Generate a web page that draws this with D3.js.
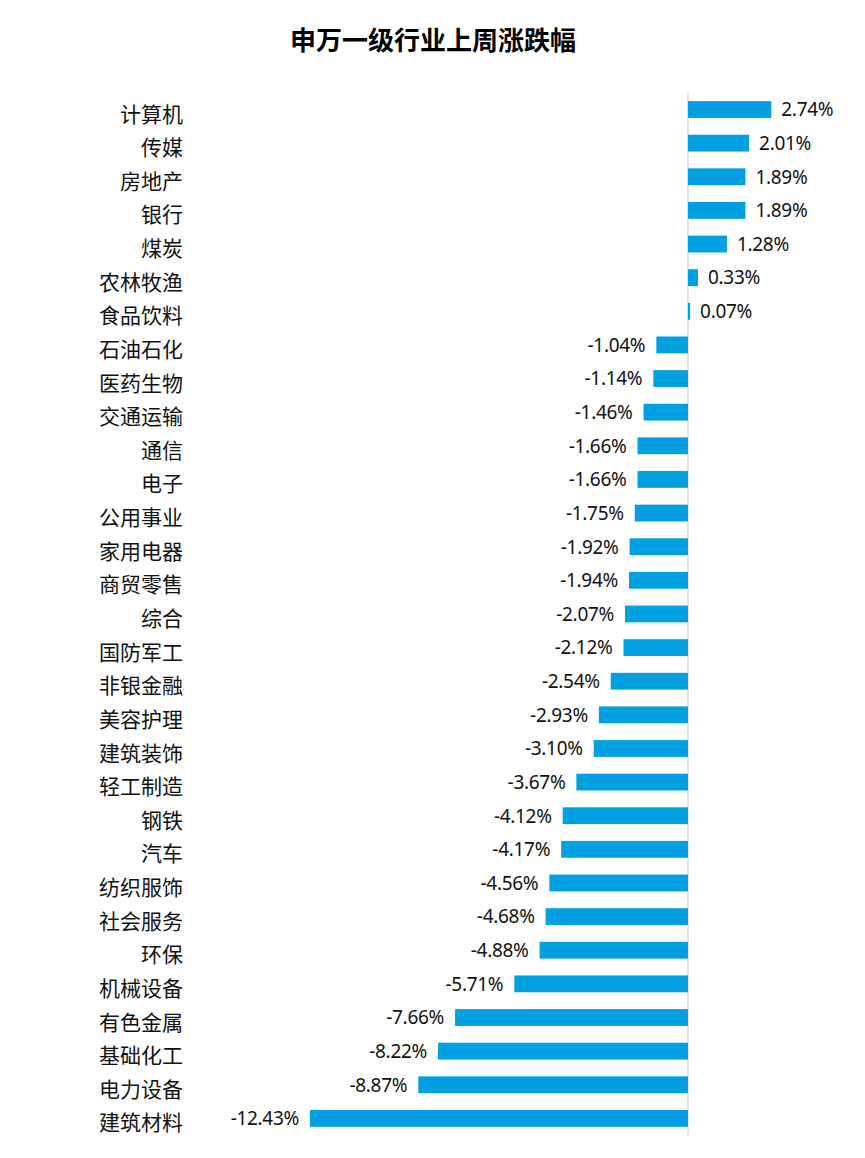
<!DOCTYPE html>
<html>
  <head>
    <meta charset="utf-8">
    <script src="https://d3js.org/d3.v7.min.js"></script>
    <title>申万一级行业上周涨跌幅</title>
    <style>
      body { margin: 0; background: #fff; }
      text { font-family: "Noto Sans CJK SC", "Noto Sans", sans-serif; }
    </style>
  </head>
  <body>
  <script>
    var industries = ["计算机", "传媒", "房地产", "银行", "煤炭", "农林牧渔", "食品饮料", "石油石化",
      "医药生物", "交通运输", "通信", "电子", "公用事业", "家用电器", "商贸零售", "综合",
      "国防军工", "非银金融", "美容护理", "建筑装饰", "轻工制造", "钢铁", "汽车", "纺织服饰",
      "社会服务", "环保", "机械设备", "有色金属", "基础化工", "电力设备", "建筑材料"];
    var changes = [2.74, 2.01, 1.89, 1.89, 1.28, 0.33, 0.07, -1.04,
      -1.14, -1.46, -1.66, -1.66, -1.75, -1.92, -1.94, -2.07,
      -2.12, -2.54, -2.93, -3.10, -3.67, -4.12, -4.17, -4.56,
      -4.68, -4.88, -5.71, -7.66, -8.22, -8.87, -12.43];

    var width = 865, height = 1158;
    var title = "申万一级行业上周涨跌幅";

    var data = industries.map(function(d, i) { return {name: d, value: changes[i]}; });

    var svg = d3.select("body").append("svg")
      .attr("width", width)
      .attr("height", height);

    svg.append("text")
      .attr("x", 433)
      .attr("y", 50)
      .attr("text-anchor", "middle")
      .style("font-size", "26px")
      .style("font-weight", "bold")
      .style("fill", "#000")
      .text(title);

    // zero sits at ~688px, -12.43 reaches ~310px
    var x = d3.scaleLinear().domain([-12.43, 2.74]).range([310, 771.3]);
    var y = d3.scaleBand().domain(industries).range([92.7, 1135.2])
      .paddingInner(0.5).paddingOuter(0.25);

    // vertical zero line
    svg.append("line")
      .attr("x1", x(0)).attr("x2", x(0))
      .attr("y1", 93).attr("y2", 1135)
      .attr("stroke", "#d9d9d9")
      .attr("stroke-width", 1.5);

    svg.selectAll(".bar")
      .data(data)
      .enter().append("rect")
        .attr("class", "bar")
        .attr("x", function(d) { return Math.min(x(0), x(d.value)); })
        .attr("y", function(d) { return y(d.name); })
        .attr("width", function(d) { return Math.max(1, Math.abs(x(d.value) - x(0))); })
        .attr("height", y.bandwidth())
        .style("fill", "#00a0e1");

    svg.selectAll(".val")
      .data(data)
      .enter().append("text")
        .attr("class", "val")
        .attr("x", function(d) { return d.value >= 0 ? x(d.value) + 10 : x(d.value) - 11; })
        .attr("y", function(d) { return y(d.name) + y.bandwidth() / 2; })
        .attr("dy", "0.36em")
        .attr("text-anchor", function(d) { return d.value >= 0 ? "start" : "end"; })
        .style("font-family", "'Noto Sans', sans-serif")
        .style("font-size", "19px")
        .style("letter-spacing", "-0.3px")
        .style("fill", "#111")
        .text(function(d) { return d.value.toFixed(2) + "%"; });

    svg.selectAll(".cat")
      .data(data)
      .enter().append("text")
        .attr("class", "cat")
        .attr("x", 183)
        .attr("y", function(d) { return y(d.name) + y.bandwidth() / 2 + 4.5; })
        .attr("dy", "0.36em")
        .attr("text-anchor", "end")
        .style("font-size", "21px")
        .style("fill", "#111")
        .text(function(d) { return d.name; });
  </script>
</body>
</html>
